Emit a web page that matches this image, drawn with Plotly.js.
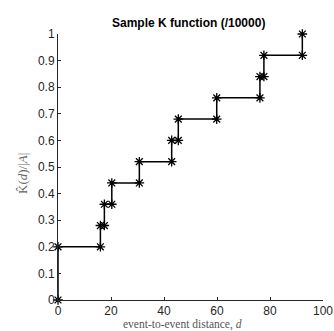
<!DOCTYPE html>
<html><head><meta charset="utf-8">
<script src="https://cdn.plot.ly/plotly-3.0.1.min.js"></script>
<style>html,body{margin:0;padding:0;background:#fff}#chart{width:334px;height:331px}</style>
</head><body><div id="chart"></div>
<script>
// event-to-event distances where K jumps, and K values after each jump
const distances = [0, 16.0, 17.5, 20.3, 30.7, 42.9, 45.4, 59.9, 76.2, 77.7, 92.2];
const kValues   = [0.2, 0.28, 0.36, 0.44, 0.52, 0.60, 0.68, 0.76, 0.84, 0.92, 1.0];
const startValue = 0;
const xTicks = [0, 20, 40, 60, 80, 100];
const yTicks = [0, 0.1, 0.2, 0.3, 0.4, 0.5, 0.6, 0.7, 0.8, 0.9, 1];

// build stair vertices (markers at every corner)
const xs = [], ys = [];
let prev = startValue;
for (let i = 0; i < distances.length; i++) {
  xs.push(distances[i]); ys.push(prev);
  xs.push(distances[i]); ys.push(kValues[i]);
  prev = kValues[i];
}

const trace = {
  x: xs, y: ys, type: 'scatter', mode: 'lines+markers',
  line: {color: '#000', width: 1.5},
  marker: {symbol: 'asterisk-open', size: 8, color: '#000', line: {color: '#000', width: 1.3}},
  cliponaxis: false, hoverinfo: 'skip'
};

const axisCommon = {
  showgrid: false, zeroline: false, showline: true, linecolor: '#262626', linewidth: 1,
  ticks: 'inside', ticklen: 3, tickcolor: '#262626', mirror: false,
  tickfont: {family: 'Liberation Sans, Arial, sans-serif', size: 12, color: '#262626'}
};

const serif = 'Liberation Serif, Times New Roman, serif';

const layout = {
  width: 334, height: 331,
  margin: {l: 58, r: 11, t: 34, b: 31, pad: 0},
  paper_bgcolor: '#fff', plot_bgcolor: '#fff',
  showlegend: false,
  title: {text: '<b>Sample K function (/10000)</b>', x: 0.565, xanchor: 'center', y: 0.932, yanchor: 'middle',
          font: {family: 'Liberation Sans, Arial, sans-serif', size: 12, color: '#000'}},
  xaxis: Object.assign({}, axisCommon, {range: [0, 100], tickvals: xTicks, ticktext: xTicks.map(String)}),
  yaxis: Object.assign({}, axisCommon, {range: [0, 1], tickvals: yTicks, ticktext: yTicks.map(String)}),
  annotations: [
    {text: 'event-to-event distance, <i>d</i>', xref: 'paper', yref: 'paper', x: 0.468, y: -0.093,
     xanchor: 'center', yanchor: 'middle', showarrow: false, borderpad: 0,
     font: {family: serif, size: 11.5, color: '#555'}},
    {text: 'K\u0302(<i>d</i>)/|<i>A</i>|', xref: 'paper', yref: 'paper', x: -0.132, y: 0.474,
     xanchor: 'center', yanchor: 'middle', textangle: -90, showarrow: false,
     font: {family: serif, size: 13, color: '#666'}}
  ]
};

Plotly.newPlot('chart', [trace], layout, {displayModeBar: false, staticPlot: true});
</script></body></html>
